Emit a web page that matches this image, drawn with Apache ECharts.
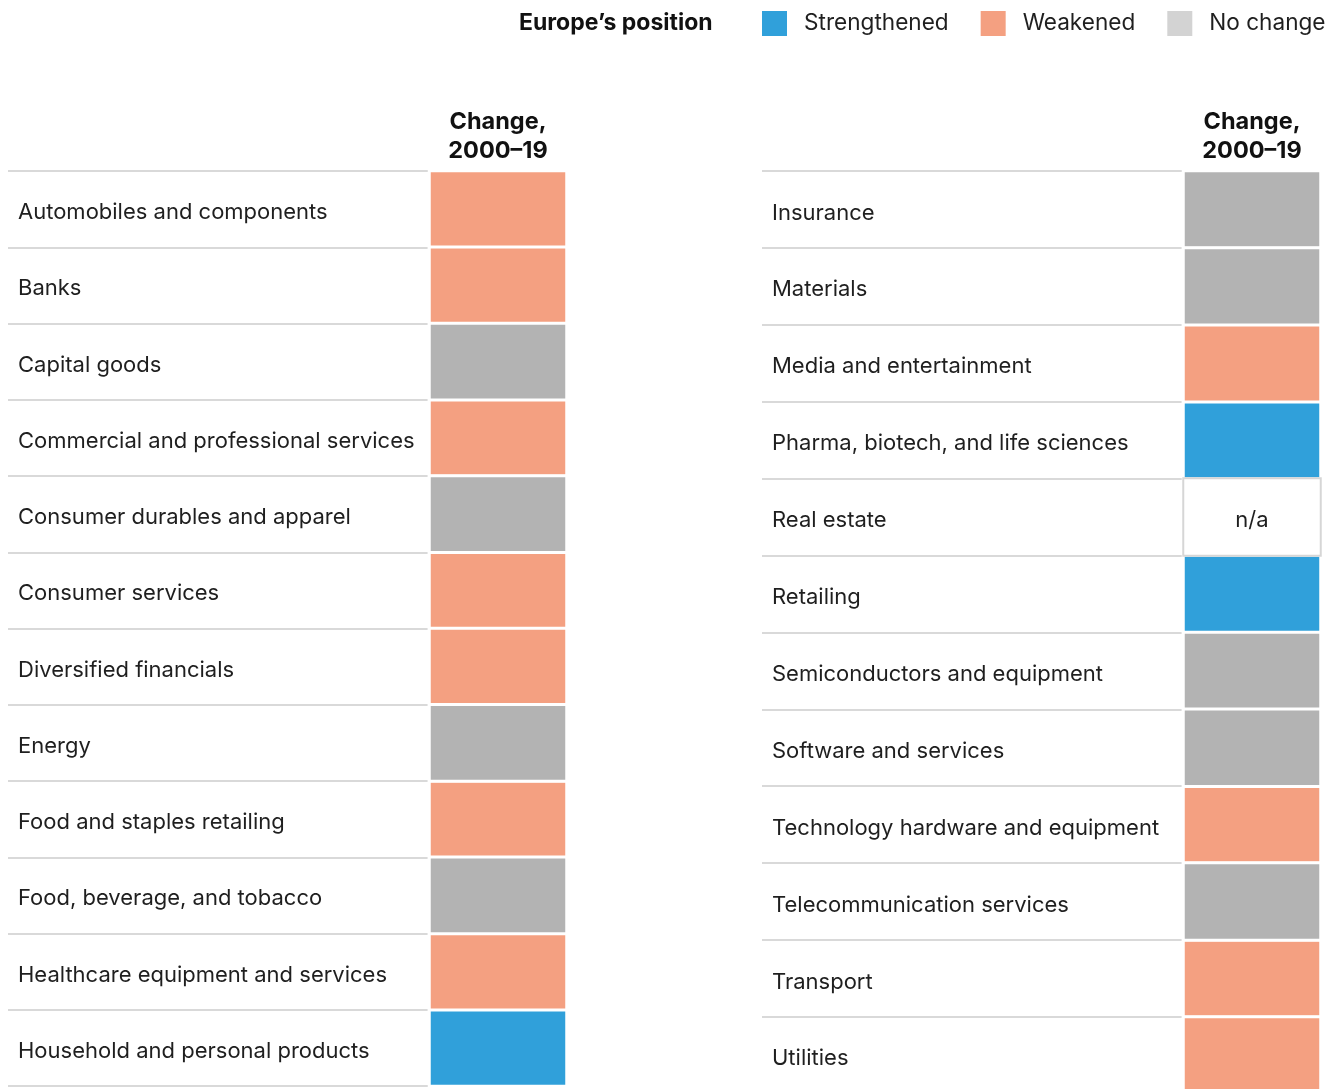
<!DOCTYPE html>
<html>
<head>
<meta charset="utf-8">
<script src="https://cdn.jsdelivr.net/npm/echarts@6/dist/echarts.min.js"></script>
<style>
  html, body { margin: 0; padding: 0; background: #fff; }
  #chart { width: 1341px; height: 1089px; }
</style>
</head>
<body>
<div id="chart"></div>
<script>
// Sectors and Europe's position change, 2000-19
const leftSectors = [
  'Automobiles and components', 'Banks', 'Capital goods',
  'Commercial and professional services', 'Consumer durables and apparel',
  'Consumer services', 'Diversified financials', 'Energy',
  'Food and staples retailing', 'Food, beverage, and tobacco',
  'Healthcare equipment and services', 'Household and personal products'
];
const leftStatus = ['W', 'W', 'N', 'W', 'N', 'W', 'W', 'N', 'W', 'N', 'W', 'S'];

const rightSectors = [
  'Insurance', 'Materials', 'Media and entertainment',
  'Pharma, biotech, and life sciences', 'Real estate', 'Retailing',
  'Semiconductors and equipment', 'Software and services',
  'Technology hardware and equipment', 'Telecommunication services',
  'Transport', 'Utilities'
];
const rightStatus = ['N', 'N', 'W', 'S', 'NA', 'S', 'N', 'N', 'W', 'N', 'W', 'W'];

const columnLabel = ['Change,\n2000–19'];

const statusNames = { S: 'Strengthened', W: 'Weakened', N: 'No change', NA: 'n/a' };
const statusColors = { S: '#30a0da', W: '#f4a081', N: '#b3b3b3', NA: '#ffffff' };

const FONT = 'Inter, "Noto Sans", sans-serif';
const TEXT = '#1f1f1f';

// row label text, nudged a little below the row centre like the original
const rowText = { t: { fontFamily: FONT, fontSize: 22, color: TEXT, padding: [7, 0, 0, 0] } };

// colored column spans colLeft..colRight; grid is padded by half the white gap
const panels = [
  { colLeft: 431, colRight: 565, top: 171, rowH: 76.25, labelX: 18, ruleX: 8, sectors: leftSectors, status: leftStatus },
  { colLeft: 1185, colRight: 1319, top: 171, rowH: 76.9, labelX: 772, ruleX: 762, sectors: rightSectors, status: rightStatus }
];
const GAP = 3;

const grids = [], xAxes = [], yAxes = [], series = [], graphics = [];

panels.forEach((p, i) => {
  const gl = p.colLeft - GAP / 2;
  grids.push({
    left: gl, top: p.top, width: p.colRight - p.colLeft + GAP,
    height: p.rowH * p.sectors.length, outerBoundsMode: 'none'
  });
  xAxes.push({
    type: 'category', gridIndex: i, position: 'top', data: columnLabel,
    axisLine: { show: false }, axisTick: { show: false },
    axisLabel: { fontFamily: FONT, fontSize: 23.5, fontWeight: 'bold', color: '#111', lineHeight: 29, margin: 6 }
  });
  yAxes.push({
    type: 'category', gridIndex: i, inverse: true, data: p.sectors,
    axisLine: { show: false },
    axisTick: { show: true, interval: 0, length: gl - p.ruleX, lineStyle: { color: '#d9d9d9', width: 2 } },
    axisLabel: {
      align: 'left', margin: gl - p.labelX, interval: 0,
      formatter: v => '{t|' + v + '}', rich: rowText
    }
  });

  ['S', 'W', 'N', 'NA'].forEach(code => {
    const data = [];
    p.status.forEach((s, r) => { if (s === code) data.push([0, r, 1]); });
    if (!data.length) return;
    series.push({
      type: 'heatmap', name: statusNames[code], xAxisIndex: i, yAxisIndex: i,
      data: data,
      itemStyle: code === 'NA'
        ? { color: '#fff', borderColor: '#d6d6d6', borderWidth: 2 }
        : { color: statusColors[code], borderColor: '#fff', borderWidth: GAP },
      label: { show: code === 'NA', formatter: '{t|n/a}', rich: rowText },
      emphasis: { disabled: true }
    });
  });

  // dark rule under the column header
  graphics.push({
    type: 'line',
    shape: { x1: p.ruleX, y1: p.top, x2: p.colRight, y2: p.top },
    style: { stroke: '#8c8c8c', lineWidth: 2 }
  });
});

const chart = echarts.init(document.getElementById('chart'));
chart.setOption({
  animation: false,
  backgroundColor: '#fff',
  title: {
    text: 'Europe’s position', left: 519, top: 12, padding: 0,
    textStyle: { fontFamily: FONT, fontSize: 23, fontWeight: 'bold', color: '#111' }
  },
  legend: {
    left: 762, top: 11, padding: 0, icon: 'rect', itemWidth: 25, itemHeight: 25, itemGap: 32,
    selectedMode: false,
    textStyle: { fontFamily: FONT, fontSize: 22.6, color: TEXT, padding: [2, 0, 0, 12] },
    data: [
      { name: 'Strengthened', itemStyle: { color: '#30a0da', borderWidth: 0 } },
      { name: 'Weakened', itemStyle: { color: '#f4a081', borderWidth: 0 } },
      { name: 'No change', itemStyle: { color: '#d3d3d3', borderWidth: 0 } }
    ]
  },
  grid: grids,
  xAxis: xAxes,
  yAxis: yAxes,
  series: series,
  graphic: graphics
});
</script>
</body>
</html>
